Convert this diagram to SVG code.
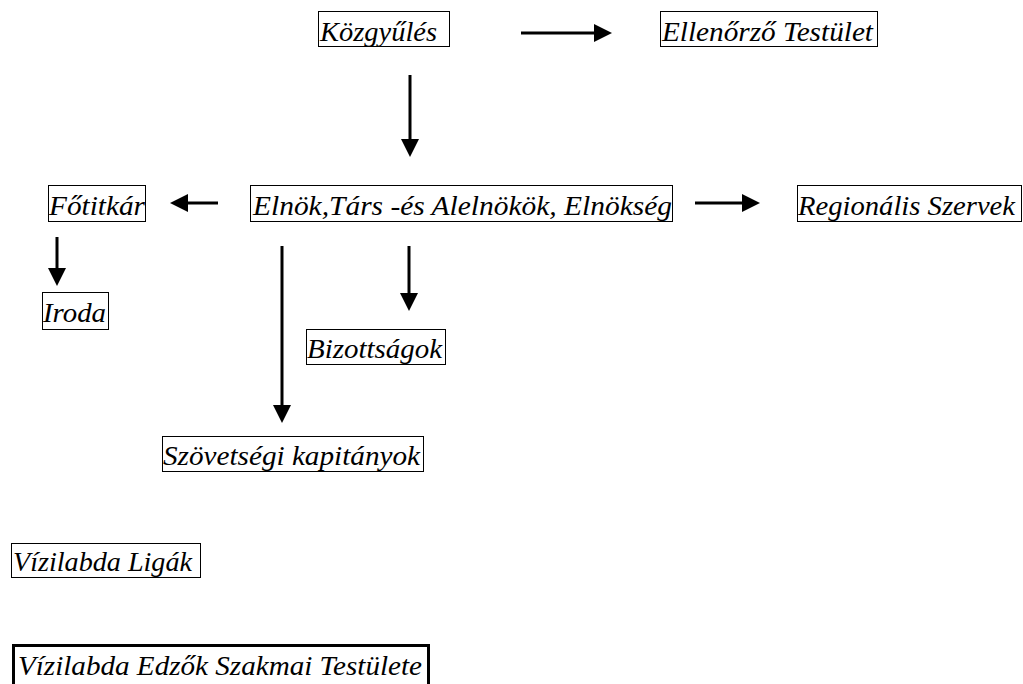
<svg xmlns="http://www.w3.org/2000/svg" width="1023" height="684" viewBox="0 0 1023 684">
<style>
.box{fill:#fff;stroke:#000;stroke-width:1}
.thick{fill:#fff;stroke:#000;stroke-width:3}
.c{stroke:#000;stroke-width:3;fill:none}
</style>
<defs>
<marker id="ah" markerWidth="6" markerHeight="6" refX="0" refY="3" orient="auto" markerUnits="strokeWidth">
<path d="M0,0 L6,3 L0,6 Z" fill="#000"/>
</marker>
</defs>
<rect width="1023" height="684" fill="#fff"/>
<g id="connectors">
<line class="c" x1="521" y1="33" x2="594" y2="33" marker-end="url(#ah)"/>
<line class="c" x1="410" y1="75" x2="410" y2="139" marker-end="url(#ah)"/>
<line class="c" x1="218" y1="203" x2="188" y2="203" marker-end="url(#ah)"/>
<line class="c" x1="695" y1="203" x2="742" y2="203" marker-end="url(#ah)"/>
<line class="c" x1="57" y1="237" x2="57" y2="268" marker-end="url(#ah)"/>
<line class="c" x1="409" y1="246" x2="409" y2="293" marker-end="url(#ah)"/>
<line class="c" x1="282" y1="246" x2="282" y2="405" marker-end="url(#ah)"/>
</g>
<g font-family="Liberation Serif, Times New Roman, serif" font-style="italic" font-size="28" fill="#000">
<g id="kozgyules">
<rect class="box" x="318.5" y="11.5" width="131" height="35"/>
<text x="320" y="41" textLength="117" lengthAdjust="spacingAndGlyphs">Közgyűlés</text>
</g>
<g id="ellenorzo">
<rect class="box" x="660.5" y="11.5" width="217" height="35"/>
<text x="662" y="41" textLength="211" lengthAdjust="spacingAndGlyphs">Ellenőrző Testület</text>
</g>
<g id="fotitkar">
<rect class="box" x="48.5" y="185.5" width="97" height="36"/>
<text x="49" y="215" textLength="96" lengthAdjust="spacingAndGlyphs">Főtitkár</text>
</g>
<g id="elnok">
<rect class="box" x="250.5" y="185.5" width="422" height="36"/>
<text x="253" y="215" textLength="419" lengthAdjust="spacingAndGlyphs">Elnök,Társ -és Alelnökök, Elnökség</text>
</g>
<g id="regionalis">
<rect class="box" x="797.5" y="185.5" width="224" height="36"/>
<text x="798" y="215" textLength="217" lengthAdjust="spacingAndGlyphs">Regionális Szervek</text>
</g>
<g id="iroda">
<rect class="box" x="42.5" y="292.5" width="66" height="37"/>
<text x="43" y="322" textLength="63" lengthAdjust="spacingAndGlyphs">Iroda</text>
</g>
<g id="bizottsagok">
<rect class="box" x="306.5" y="329.5" width="139" height="35"/>
<text x="307" y="358" textLength="135" lengthAdjust="spacingAndGlyphs">Bizottságok</text>
</g>
<g id="kapitanyok">
<rect class="box" x="162.5" y="436.5" width="261" height="35"/>
<text x="163" y="465" textLength="257" lengthAdjust="spacingAndGlyphs">Szövetségi kapitányok</text>
</g>
<g id="ligak">
<rect class="box" x="11.5" y="543.5" width="189" height="34"/>
<text x="13" y="571" textLength="179" lengthAdjust="spacingAndGlyphs">Vízilabda Ligák</text>
</g>
<g id="edzok">
<rect class="thick" x="13.5" y="645.5" width="415" height="50"/>
<text x="18" y="675" textLength="404" lengthAdjust="spacingAndGlyphs">Vízilabda Edzők Szakmai Testülete</text>
</g>
</g>
</svg>
